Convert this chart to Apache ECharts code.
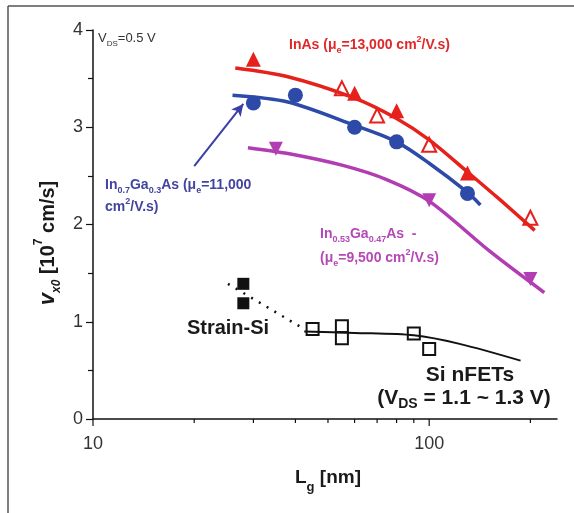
<!DOCTYPE html>
<html>
<head>
<meta charset="utf-8">
<script src="https://cdn.jsdelivr.net/npm/echarts@6/dist/echarts.min.js"></script>
<style>
  html, body { margin: 0; padding: 0; background: #fff; }
  #main { width: 574px; height: 513px; }
</style>
</head>
<body>
<div id="main"></div>
<script>
// InAs
var inasFilledX = [30, 60, 80, 130];
var inasFilledY = [3.70, 3.35, 3.17, 2.53];
var inasOpenX = [55, 70, 100, 200];
var inasOpenY = [3.40, 3.12, 2.82, 2.07];
var inasFitX = [26.5, 38, 60, 80, 100, 130, 163, 206];
var inasFitY = [3.61, 3.52, 3.30, 3.09, 2.87, 2.54, 2.25, 1.94];

// In0.7Ga0.3As
var in70X = [30, 40, 60, 80, 130];
var in70Y = [3.25, 3.33, 3.00, 2.85, 2.32];
var in70FitX = [26, 38, 60, 80, 100, 130, 142];
var in70FitY = [3.33, 3.26, 3.02, 2.85, 2.63, 2.33, 2.20];

// In0.53Ga0.47As
var in53X = [35, 100, 200];
var in53Y = [2.78, 2.25, 1.44];
var in53FitX = [28.9, 38, 55, 75, 100, 152, 220];
var in53FitY = [2.79, 2.73, 2.61, 2.46, 2.24, 1.72, 1.30];

// Si nFETs
var siX = [45, 55, 55, 90, 100];
var siY = [0.925, 0.955, 0.83, 0.88, 0.72];
var siFitX = [42.5, 60, 90, 124, 187];
var siFitY = [0.90, 0.885, 0.86, 0.77, 0.60];

// Strain-Si
var strainX = [28, 28];
var strainY = [1.39, 1.19];
var strainFitX = [25.2, 41.3];
var strainFitY = [1.39, 0.95];

// arrow to In0.7Ga0.3As curve
var arrowX = [20, 28];
var arrowY = [2.6, 3.24];

// x axis ticks (log axis)
var xTickValues = [10, 20, 30, 40, 50, 60, 70, 80, 90, 100, 200];
var xTickLabels = [10, 100];

var FONT = '"Liberation Sans", Arial, sans-serif';
var RED = '#e6201b';
var BLUE = '#2d4aa8';
var MAGENTA = '#b23db3';

function pairs(xs, ys) {
  return xs.map(function (x, i) { return [x, ys[i]]; });
}

function subStyles(size, color, weight) {
  return {
    a: { fontSize: size, fontWeight: weight, fontFamily: FONT, fill: color, lineHeight: size + 2 },
    s: { fontSize: Math.round(size * 0.65), fontWeight: weight, fontFamily: FONT, fill: color,
         verticalAlign: 'bottom', lineHeight: size + 6 },
    p: { fontSize: Math.round(size * 0.65), fontWeight: weight, fontFamily: FONT, fill: color,
         verticalAlign: 'top', lineHeight: size + 6 }
  };
}

function label(x, y, text, size, color, weight, align) {
  return {
    type: 'text', x: x, y: y, silent: true,
    style: {
      text: text, align: align || 'left', verticalAlign: 'middle',
      rich: subStyles(size, color, weight)
    }
  };
}

function fitLine(name, xs, ys, color, width) {
  return {
    name: name, type: 'line', smooth: 0.3, symbol: 'none',
    lineStyle: { color: color, width: width },
    data: pairs(xs, ys)
  };
}

var chart = echarts.init(document.getElementById('main'));

var option = {
  animation: false,
  backgroundColor: '#fff',
  grid: { left: 93, right: 17, top: 30, bottom: 94 },
  xAxis: {
    type: 'log',
    logBase: 10,
    min: 10,
    max: 240,
    axisLine: { lineStyle: { color: '#111', width: 1.5 } },
    axisTick: { show: false },
    splitLine: { show: false },
    axisLabel: {
      fontSize: 18, color: '#333', fontFamily: FONT, margin: 16,
      formatter: function (v) {
        var r = Math.round(v);
        return xTickLabels.indexOf(r) >= 0 ? String(r) : '';
      }
    }
  },
  yAxis: {
    type: 'value',
    min: 0,
    max: 4,
    interval: 1,
    axisLine: { show: true, lineStyle: { color: '#111', width: 1.5 } },
    axisTick: { show: true, length: 7, lineStyle: { color: '#111', width: 1.2 } },
    minorTick: { show: true, splitNumber: 2, length: 5, lineStyle: { color: '#111', width: 1.2 } },
    splitLine: { show: false },
    axisLabel: { fontSize: 18, color: '#333', fontFamily: FONT, margin: 10 }
  },
  series: [
    {
      type: 'custom',
      silent: true,
      clip: false,
      data: xTickValues.map(function (v) { return [v, 0, xTickLabels.indexOf(v) >= 0 ? 1 : 0]; }),
      renderItem: function (params, api) {
        var p = api.coord([api.value(0), 0]);
        var len = api.value(2) ? 7 : 4;
        return {
          type: 'line',
          shape: { x1: p[0], y1: p[1], x2: p[0], y2: p[1] + len },
          style: { stroke: '#111', lineWidth: 1.2 }
        };
      }
    },
    fitLine('InAs fit', inasFitX, inasFitY, RED, 3.5),
    fitLine('In0.7 fit', in70FitX, in70FitY, BLUE, 3.5),
    fitLine('In0.53 fit', in53FitX, in53FitY, MAGENTA, 3.5),
    fitLine('Si fit', siFitX, siFitY, '#111', 2),
    {
      name: 'Strain fit', type: 'line', symbol: 'none',
      lineStyle: { color: '#111', width: 2.5, type: [2, 7] },
      data: pairs(strainFitX, strainFitY)
    },
    {
      name: 'arrow', type: 'line', symbol: 'none', data: [],
      markLine: {
        silent: true, symbol: ['none', 'arrow'], symbolSize: [9, 12],
        label: { show: false },
        lineStyle: { color: '#3a3fa6', width: 2, type: 'solid' },
        data: [[{ coord: [arrowX[0], arrowY[0]] }, { coord: [arrowX[1], arrowY[1]] }]]
      }
    },
    {
      name: 'InAs open', type: 'scatter', symbol: 'emptyTriangle', symbolSize: 14,
      itemStyle: { color: RED, borderColor: RED, borderWidth: 1.5, opacity: 1 },
      data: pairs(inasOpenX, inasOpenY)
    },
    {
      name: 'InAs', type: 'scatter', symbol: 'triangle', symbolSize: 15,
      itemStyle: { color: RED, opacity: 1 },
      data: pairs(inasFilledX, inasFilledY)
    },
    {
      name: 'In0.7', type: 'scatter', symbol: 'circle', symbolSize: 15,
      itemStyle: { color: BLUE, opacity: 1 },
      data: pairs(in70X, in70Y)
    },
    {
      name: 'In0.53', type: 'scatter', symbol: 'triangle', symbolRotate: 180, symbolSize: 14,
      itemStyle: { color: MAGENTA, opacity: 1 },
      data: pairs(in53X, in53Y)
    },
    {
      name: 'Si', type: 'scatter', symbol: 'emptyRect', symbolSize: 12,
      itemStyle: { color: '#111', borderColor: '#111', borderWidth: 1.3, opacity: 1 },
      data: pairs(siX, siY)
    },
    {
      name: 'Strain', type: 'scatter', symbol: 'rect', symbolSize: [12, 12],
      itemStyle: { color: '#111', opacity: 1 },
      data: pairs(strainX, strainY)
    }
  ],
  graphic: [
    // frame
    { type: 'line', silent: true, shape: { x1: 8, y1: 6, x2: 574, y2: 6 }, style: { stroke: '#555', lineWidth: 1.5 } },
    { type: 'line', silent: true, shape: { x1: 8, y1: 6, x2: 8, y2: 513 }, style: { stroke: '#555', lineWidth: 1.5 } },

    label(98, 38, '{a|V}{s|DS}{a|=0.5 V}', 13, '#333', 'normal'),
    label(289, 45, '{a|InAs (μ}{s|e}{a|=13,000 cm}{p|2}{a|/V.s)}', 14, '#e02828', 'bold'),
    label(105, 185, '{a|In}{s|0.7}{a|Ga}{s|0.3}{a|As (μ}{s|e}{a|=11,000}', 14, '#4343a0', 'bold'),
    label(105, 207, '{a|cm}{p|2}{a|/V.s)}', 14, '#4343a0', 'bold'),
    label(320, 234, '{a|In}{s|0.53}{a|Ga}{s|0.47}{a|As  -}', 14, '#b548b5', 'bold'),
    label(320, 258, '{a|(μ}{s|e}{a|=9,500 cm}{p|2}{a|/V.s)}', 14, '#b548b5', 'bold'),
    label(228, 328, '{a|Strain-Si}', 20, '#1a1a1a', 'bold', 'center'),
    label(470, 375, '{a|Si nFETs}', 21, '#1a1a1a', 'bold', 'center'),
    label(464, 398, '{a|(V}{s|DS}{a| = 1.1 ~ 1.3 V)}', 21, '#1a1a1a', 'bold', 'center'),

    // axis names
    {
      type: 'text', x: 328, y: 478, silent: true,
      style: {
        text: '{a|L}{s|g}{a| [nm]}', align: 'center', verticalAlign: 'middle',
        rich: {
          a: { fontSize: 19, fontWeight: 'bold', fontFamily: FONT, fill: '#1a1a1a', lineHeight: 20 },
          s: { fontSize: 13, fontWeight: 'bold', fontFamily: FONT, fill: '#1a1a1a', verticalAlign: 'bottom', lineHeight: 32 }
        }
      }
    },
    {
      type: 'text', x: 48, y: 243, rotation: Math.PI / 2, silent: true,
      style: {
        text: '{v|v}{s|x0}{a| [10}{p|7}{a| cm/s]}', align: 'center', verticalAlign: 'middle',
        rich: {
          v: { fontSize: 22, fontWeight: 'bold', fontStyle: 'italic', fontFamily: FONT, fill: '#1a1a1a', lineHeight: 22 },
          a: { fontSize: 20, fontWeight: 'bold', fontFamily: FONT, fill: '#1a1a1a', lineHeight: 22 },
          s: { fontSize: 12, fontWeight: 'bold', fontStyle: 'italic', fontFamily: FONT, fill: '#1a1a1a', verticalAlign: 'bottom', lineHeight: 30 },
          p: { fontSize: 12, fontWeight: 'bold', fontFamily: FONT, fill: '#1a1a1a', verticalAlign: 'top', lineHeight: 30 }
        }
      }
    }
  ]
};

chart.setOption(option);
</script>
</body>
</html>
